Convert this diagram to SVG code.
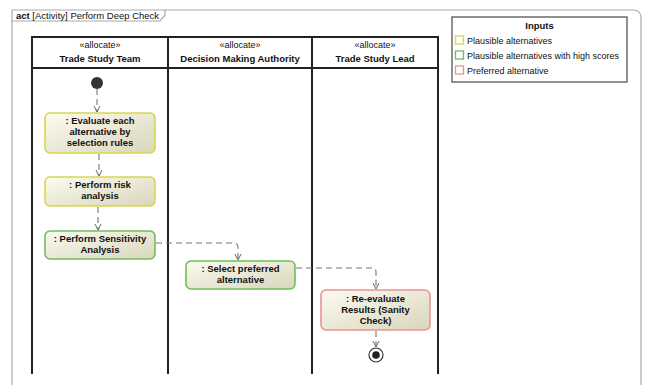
<svg xmlns="http://www.w3.org/2000/svg" width="646" height="385" viewBox="0 0 646 385">
<defs>
<linearGradient id="g" x1="0" y1="0" x2="1" y2="1">
<stop offset="0" stop-color="#fbfbf1"/>
<stop offset="1" stop-color="#d9d6bb"/>
</linearGradient>
<marker id="ah" markerWidth="8" markerHeight="8" refX="7" refY="4" orient="auto" markerUnits="userSpaceOnUse">
<path d="M1,1 L7,4 L1,7" fill="none" stroke="#666" stroke-width="1"/>
</marker>
</defs>
<style>
text{font-family:"Liberation Sans",Arial,sans-serif;fill:#111;}
.b{font-weight:bold;font-size:9.5px;text-anchor:middle;}
.s{font-size:9px;text-anchor:middle;}
.lg{font-size:9px;}
.act{fill:url(#g);stroke-width:1.6;}
.y{stroke:#d8d64e;}
.gr{stroke:#6fbd5c;}
.p{stroke:#ea9393;}
.lane{fill:none;stroke:#222;stroke-width:2;}
.c{fill:none;stroke:#777;stroke-width:1.1;stroke-dasharray:6,4;marker-end:url(#ah);}
</style>
<rect width="646" height="385" fill="#fff"/>
<g id="frame">
<path d="M12,390 L12,10 L633,10 Q641,10 641,18 L641,390" fill="none" stroke="#aaa" stroke-width="1.2"/>
<path d="M12,21 L160,21 L165,15 L165,10" fill="none" stroke="#aaa" stroke-width="1.2"/>
<text x="16" y="18.5" font-size="9.5"><tspan font-weight="bold">act</tspan> [Activity] Perform Deep Check</text>
</g>
<g id="lanes">
<rect x="32" y="37" width="406" height="31" class="lane"/>
<path d="M32,68 V374 M168,37 V374 M312,37 V374 M438,68 V374" class="lane"/>
<text x="100" y="48" class="s">«allocate»</text>
<text x="100" y="62" class="b">Trade Study Team</text>
<text x="240" y="48" class="s">«allocate»</text>
<text x="240" y="62" class="b">Decision Making Authority</text>
<text x="375" y="48" class="s">«allocate»</text>
<text x="375" y="62" class="b">Trade Study Lead</text>
</g>
<g id="legend">
<rect x="452" y="17" width="175" height="65" fill="#fff" stroke="#555" stroke-width="1.3"/>
<text x="539.5" y="29" class="b">Inputs</text>
<rect x="455.5" y="36" width="8" height="8" fill="#fff" stroke="#d8d64e" stroke-width="1.3"/>
<text x="467" y="43.5" class="lg">Plausible alternatives</text>
<rect x="455.5" y="51" width="8" height="8" fill="#fff" stroke="#6fbd5c" stroke-width="1.3"/>
<text x="467" y="58.5" class="lg">Plausible alternatives with high scores</text>
<rect x="455.5" y="66" width="8" height="8" fill="#fff" stroke="#ea9393" stroke-width="1.3"/>
<text x="467" y="73.5" class="lg">Preferred alternative</text>
</g>
<g id="connectors">
<path d="M97,89 V112" class="c"/>
<path d="M99,154 V176" class="c"/>
<path d="M98,207 V230" class="c"/>
<path d="M156,243 H234 Q238,243 238,247 V260" class="c"/>
<path d="M296,268 H372 Q376,268 376,272 V289" class="c"/>
<path d="M376,331 V347" class="c"/>
</g>
<g id="initial"><circle cx="97" cy="83" r="6" fill="#333"/></g>
<g id="evaluate">
<rect x="45" y="113" width="110" height="40" rx="5" class="act y"/>
<text x="100" y="124" class="b">: Evaluate each</text>
<text x="100" y="135" class="b">alternative by</text>
<text x="100" y="146" class="b">selection rules</text>
</g>
<g id="risk">
<rect x="45" y="177" width="110" height="29" rx="5" class="act y"/>
<text x="100" y="188" class="b">: Perform risk</text>
<text x="100" y="199" class="b">analysis</text>
</g>
<g id="sensitivity">
<rect x="45" y="231" width="110" height="28" rx="5" class="act gr"/>
<text x="100" y="241.5" class="b">: Perform Sensitivity</text>
<text x="100" y="252.5" class="b">Analysis</text>
</g>
<g id="select">
<rect x="186" y="261" width="109" height="28" rx="5" class="act gr"/>
<text x="240.5" y="272" class="b">: Select preferred</text>
<text x="240.5" y="283" class="b">alternative</text>
</g>
<g id="reevaluate">
<rect x="321" y="290" width="109" height="40" rx="5" class="act p"/>
<text x="375.5" y="302" class="b">: Re-evaluate</text>
<text x="375.5" y="313" class="b">Results (Sanity</text>
<text x="375.5" y="324" class="b">Check)</text>
</g>
<g id="final">
<circle cx="376" cy="355" r="7" fill="#fff" stroke="#333" stroke-width="1.2"/>
<circle cx="376" cy="355" r="3.8" fill="#222"/>
</g>
</svg>
